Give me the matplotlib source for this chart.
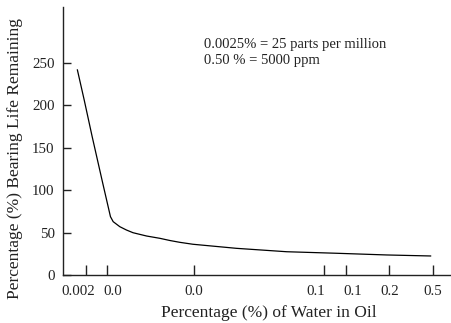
import matplotlib.pyplot as plt

plt.rcParams['font.family'] = ['Liberation Serif', 'DejaVu Serif']

# x positions on the chart's own (non-uniform) scale, 0-100 across the axis
water_pos = [3.7, 5.45, 7.5, 10.2, 12.2, 12.9, 14.6, 16.3, 18.0, 19.7, 21.5,
             24.9, 27.5, 30.0, 33.4, 44.6, 57.5, 70.3, 83.2, 94.5]
life_pct = [241.5, 206.1, 162.9, 108.4, 68.7, 62.8, 56.9, 53.0, 49.8, 47.9,
            45.9, 43.2, 40.6, 38.5, 36.2, 31.4, 27.4, 25.6, 23.6, 22.4]

xtick_pos = [5.8, 11.2, 33.7, 67.1, 72.7, 83.9, 95.1]
xlabel_pos = [3.8, 12.7, 33.6, 65.0, 74.4, 84.0, 95.0]
xtick_labels = ['0.002', '0.0', '0.0', '0.1', '0.1', '0.2', '0.5']
ytick_vals = [0, 50, 100, 150, 200, 250]

fig = plt.figure(figsize=(4.52, 3.23), dpi=100)
ax = fig.add_axes([63 / 452, 48 / 323, 1 - 63 / 452, 268 / 323])

ax.plot(water_pos, life_pct, color='black', lw=0.9)

ax.set_xlim(0, 100)
ax.set_ylim(0, 315.6)
# tick marks and their labels sit at slightly different spots in the original
ax.set_xticks(xtick_pos)
ax.set_xticklabels([])
ax.set_xticks(xlabel_pos, minor=True)
ax.set_xticklabels(xtick_labels, minor=True)
ax.set_yticks(ytick_vals)

for s in ('top', 'right'):
    ax.spines[s].set_visible(False)
for s in ('left', 'bottom'):
    ax.spines[s].set_linewidth(1.0)
    ax.spines[s].set_color('#222222')

ax.tick_params(axis='x', which='major', direction='in', length=7.5, width=1.0,
               color='#222222')
ax.tick_params(axis='x', which='minor', length=0, pad=7, labelsize=10.7,
               labelcolor='#222222')
ax.tick_params(axis='y', direction='in', length=6, width=1.0, pad=6,
               labelsize=10.7, colors='#222222')

ax.set_xlabel('Percentage (%) of Water in Oil', fontsize=12.5, color='#222222',
              ha='center', va='center')
ax.xaxis.set_label_coords(0.530, -0.142)
ax.set_ylabel('Percentage (%) Bearing Life Remaining', fontsize=12.5,
              color='#222222', ha='center', va='center')
ax.yaxis.set_label_coords(-0.124, 0.433)

ax.text(0.363, 0.885, '0.0025% = 25 parts per million\n0.50 % = 5000 ppm',
        transform=ax.transAxes, fontsize=10.5, color='#222222', va='top',
        linespacing=1.35)

fig.savefig('out.png', dpi=100)
